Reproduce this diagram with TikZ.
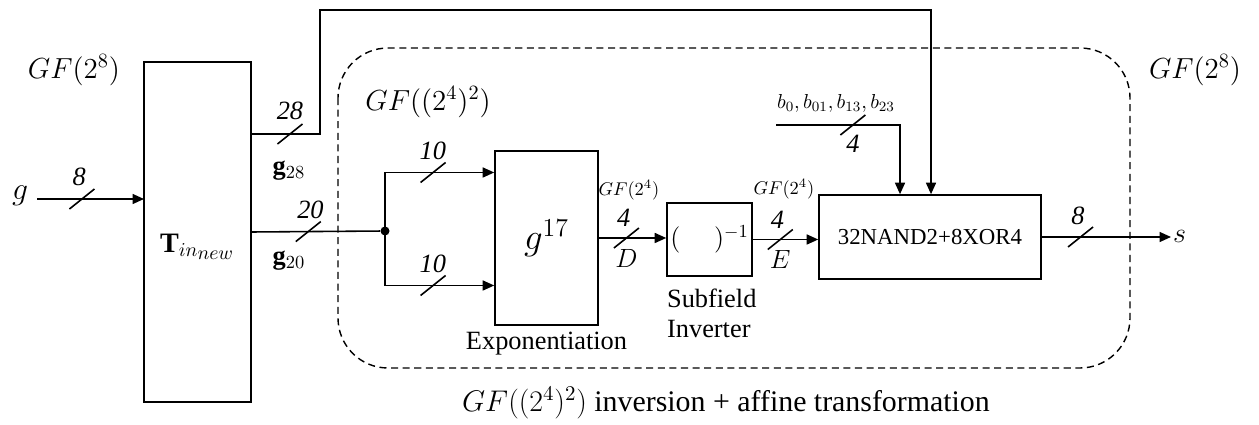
\documentclass[tikz,border=0pt]{standalone}
\usepackage{fix-cm}
\usepackage{amsmath}
\usepackage{fontspec}
\setmainfont{Liberation Serif}
\usetikzlibrary{arrows.meta,positioning,calc}
\tikzset{
  >={Triangle[length=2.3mm,width=2mm]},
  blockbox/.style={draw,line width=.9pt,inner sep=0pt},
  flow/.style={->,line width=.9pt},
  wire/.style={line width=.9pt},
  region/.style={dashed,dash pattern=on 4pt off 2.6pt,line width=.8pt,rounded corners=1cm},
  dot/.style={circle,fill,inner sep=0pt,minimum size=1.8mm},
  txt/.style={font=\fontsize{15}{17}\selectfont,inner sep=1pt},
  fieldlab/.style={font=\fontsize{16.5}{19}\selectfont,inner sep=1pt},
  small/.style={font=\fontsize{10.5}{12}\selectfont,inner sep=1pt},
  buslab/.style={font=\fontsize{15}{17}\selectfont\itshape,inner sep=1pt},
}

\begin{document}
\begin{tikzpicture}[x=1cm,y=1cm]
  \useasboundingbox (0,0) rectangle (25.18,-8.5);
  \draw[region] (6.76,-0.96) rectangle (22.6,-7.36);

  % blocks
  \node[blockbox,minimum width=2.14cm,minimum height=6.8cm] (tin) at (3.95,-4.64) {};
  \node[txt,font=\fontsize{16}{18}\selectfont] at ($(tin)+(0,-.3)$)
    {$\mathbf{T}_{in_{\scriptstyle new}}$};
  \node[blockbox,minimum width=2.06cm,minimum height=3.48cm,
    font=\fontsize{21}{24}\selectfont] (expo) at (10.93,-4.76) {$g^{17}$};
  \node[blockbox,minimum width=1.7cm,minimum height=1.46cm,txt] (inv) at (14.19,-4.79)
    {$(\quad\;)^{-1}$};
  \node[blockbox,minimum width=4.44cm,minimum height=1.68cm,
    font=\fontsize{13}{15}\selectfont] (gates) at (18.6,-4.74) {32NAND2+8XOR4};

  \node[txt,below=.08cm of expo] {Exponentiation};
  \node[txt,align=left,anchor=north west] at (13.3,-5.74) {Subfield\\Inverter};

  % inputs and outputs
  \node[font=\fontsize{18}{20}\selectfont,inner sep=1pt] (gin) at (.4,-3.92) {$g$};
  \node[anchor=west,font=\fontsize{16}{18}\selectfont,inner sep=1pt] (sout) at (23.42,-4.72) {$s$};
  \node[dot] (split) at (7.7,-4.62) {};
  \coordinate (bin) at (15.52,-2.5);

  \draw[flow] (.74,-3.98) -- coordinate[pos=.42] (w8) (2.88,-3.98);
  \draw[flow] ([yshift=1.96cm]tin.east) -- coordinate[pos=.56] (w28) (6.4,-2.68)
    -- (6.4,-.2) -| ([xshift=.02cm]gates.north);
  \draw[wire] (tin.east) -- coordinate[pos=.44] (w20) (split);
  \draw[flow] (split.center) |- coordinate[pos=.72] (wup) ([yshift=1.31cm]expo.west);
  \draw[flow] (split.center) |- coordinate[pos=.72] (wlow) ([yshift=-.95cm]expo.west);
  \draw[flow] (expo.east) -- coordinate[pos=.41] (wd) (expo.east -| inv.west);
  \draw[flow] (inv.east) -- coordinate[pos=.42] (we) (inv.east -| gates.west);
  \draw[flow] (gates.east) -- coordinate[pos=.3] (wout) (gates.east -| sout.west);
  \draw[flow] (bin) -| coordinate[pos=.31] (wb) ([xshift=-.6cm]gates.north);

  % bus width marks
  \foreach \w in {w8,w28,w20,wup,wlow,wd,we,wout,wb}
    \draw[wire] (\w) ++(-.25,-.2) -- ++(.5,.4);

  \node[buslab,above left=.22cm and -.12cm of w8] {8};
  \node[buslab,above=.24cm of w28] {28};
  \node[buslab,above left=.22cm and -.35cm of w20] {20};
  \node[buslab,above left=.22cm and -.3cm of wup] {10};
  \node[buslab,above left=.22cm and -.3cm of wlow] {10};
  \node[buslab,above left=.18cm and -.12cm of wd] {4};
  \node[buslab,above left=.18cm and -.12cm of we] {4};
  \node[buslab,above left=.2cm and -.12cm of wout] {8};
  \node[buslab,below=.17cm of wb] {4};
  \node[txt,below=.18cm of wd] {$D$};
  \node[txt,below=.18cm of we] {$E$};
  \node[txt] at (5.78,-3.42) {$\mathbf{g}_{28}$};
  \node[txt] at (5.78,-5.22) {$\mathbf{g}_{20}$};
  \node[font=\fontsize{11.5}{13}\selectfont,inner sep=1pt] at (16.72,-2.06)
    {$b_0, b_{01}, b_{13}, b_{23}$};

  % field labels
  \node[small] at (12.58,-3.8) {$GF(2^4)$};
  \node[small] at (15.68,-3.78) {$GF(2^4)$};
  \node[fieldlab] at (1.48,-1.4) {$GF(2^8)$};
  \node[fieldlab] at (23.9,-1.4) {$GF(2^8)$};
  \node[fieldlab] at (8.56,-2.04) {$GF((2^4)^2)$};
  \node[font=\fontsize{17}{19}\selectfont,inner sep=1pt] at (14.52,-8.06)
    {$GF((2^4)^2)$ inversion + affine transformation};
\end{tikzpicture}
\end{document}
